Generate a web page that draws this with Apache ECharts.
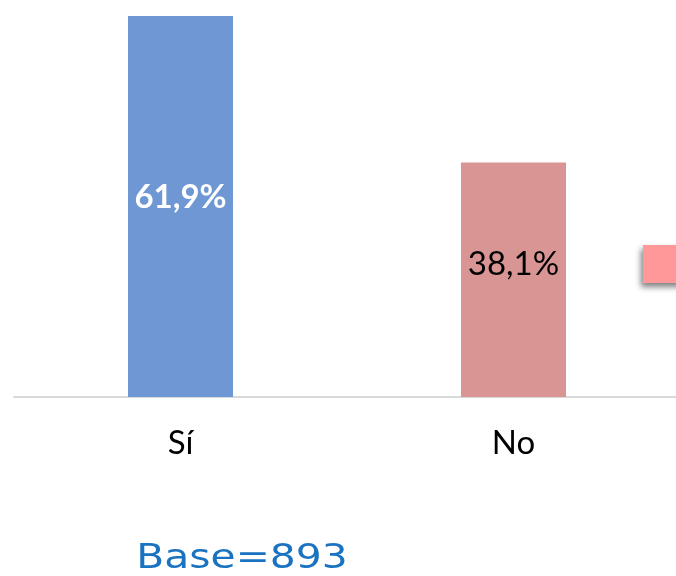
<!DOCTYPE html>
<html><head><meta charset="utf-8">
<script src="https://cdn.jsdelivr.net/npm/echarts@6/dist/echarts.min.js"></script>
<style>html,body{margin:0;padding:0;background:#fff;overflow:hidden}#c{width:680px;height:576px}</style>
</head><body><div id="c"></div>
<script>
const categories = ['Sí', 'No'];
const values = [61.9, 38.1];
const valueLabels = ['61,9%', '38,1%'];
const baseText = 'Base=893';

const colors = ['#6f97d3', '#d99594'];
const labelStyles = [
  {color: '#ffffff', fontWeight: 'bold', offset: [0, -9]},
  {color: '#000000', fontWeight: 'normal', offset: [0, -15]}
];

const chart = echarts.init(document.getElementById('c'));
chart.setOption({
  animation: false,
  grid: {left: 14, right: 0, top: 16, bottom: 179, containLabel: false},
  xAxis: {
    type: 'category', data: categories,
    axisLine: {lineStyle: {color: '#d9d9d9', width: 2}},
    axisTick: {show: false},
    axisLabel: {color: '#000', fontSize: 33, fontFamily: 'Lato', margin: 30}
  },
  yAxis: {type: 'value', min: 0, max: 61.9, show: false, splitLine: {show: false}},
  series: [{
    type: 'bar', barWidth: 105,
    data: values.map((v, i) => ({
      value: v,
      itemStyle: {color: colors[i]},
      label: {
        show: true, position: 'inside',
        formatter: valueLabels[i],
        fontSize: 33, fontFamily: 'Lato',
        color: labelStyles[i].color,
        fontWeight: labelStyles[i].fontWeight,
        offset: labelStyles[i].offset
      }
    }))
  }],
  graphic: [
    {type: 'rect', shape: {x: 643, y: 245, width: 40, height: 38},
     style: {fill: '#ff9999', shadowBlur: 6, shadowOffsetX: -2, shadowOffsetY: 4, shadowColor: 'rgba(0,0,0,0.5)'}},
    {type: 'text', x: 242, y: 559, scaleX: 1.2, originX: 0, originY: 0,
     style: {text: baseText, fill: '#1a73c0', font: '34px "DejaVu Sans"', textAlign: 'center', textVerticalAlign: 'middle'}}
  ]
});
</script></body></html>
